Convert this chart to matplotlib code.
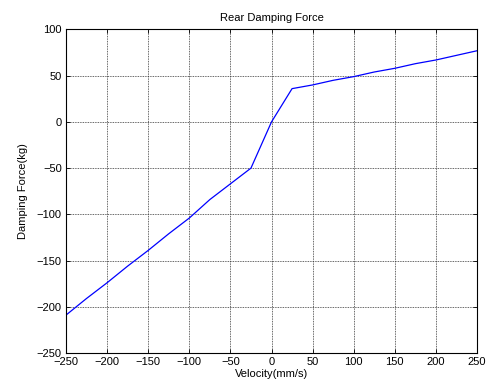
import matplotlib
matplotlib.use("Agg")
import matplotlib.pyplot as plt

velocity = [-250, -225, -200, -175, -150, -125, -100, -75, -50, -25,
            0, 25, 50, 75, 100, 125, 150, 175, 200, 225, 250]
force = [-209, -191, -174, -156, -139, -121, -104, -84, -67, -50,
         0, 36, 40, 45, 49, 54, 58, 63, 67, 72, 77]

xticks = list(range(-250, 251, 50))
yticks = list(range(-250, 101, 50))

plt.rcParams['font.family'] = ['Liberation Sans', 'DejaVu Sans']
plt.rcParams['font.size'] = 8

fig = plt.figure(figsize=(4.86, 3.9), dpi=100)
ax = fig.add_axes([0.1358, 0.0949, 0.8457, 0.8295])

ax.plot(velocity, force, color='#0000ff', linewidth=0.9)

ax.set_xlim(-250, 250)
ax.set_ylim(-250, 100)
ax.set_xticks(xticks)
ax.set_yticks(yticks)
ax.tick_params(direction='in', top=True, right=True, length=3, width=0.6, pad=3)
# matlab style dotted grid
ax.grid(True, linestyle=(0, (1, 1)), color='#333333', linewidth=0.6)
for s in ax.spines.values():
    s.set_linewidth(0.8)

ax.set_title("Rear Damping Force", fontsize=8, pad=6)
ax.set_xlabel("Velocity(mm/s)", labelpad=1)
ax.set_ylabel("Damping Force(kg)", labelpad=6)

fig.savefig("out.png", dpi=100)
